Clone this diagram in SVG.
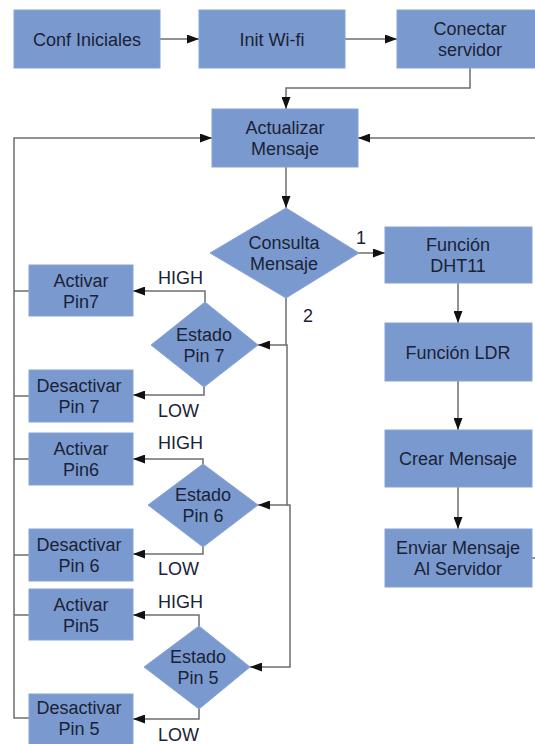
<svg xmlns="http://www.w3.org/2000/svg" width="535" height="744" viewBox="0 0 535 744">
<style>
.box{fill:#7a9acf;stroke:#86a3d6;stroke-width:1}
.t{font-family:"Liberation Sans",Arial,sans-serif;font-size:18px;fill:#1b2235;text-anchor:middle}
.lbl{font-family:"Liberation Sans",Arial,sans-serif;font-size:18px;fill:#1b2235}
.c{fill:none;stroke:#6e6e6e;stroke-width:1.5}
.ca{fill:none;stroke:#6e6e6e;stroke-width:1.5;marker-end:url(#ah)}
</style>
<defs>
<marker id="ah" markerUnits="userSpaceOnUse" markerWidth="13" markerHeight="9" refX="12" refY="4.5" orient="auto">
<path d="M0,0 L12,4.5 L0,9 z" fill="#111"/>
</marker>
</defs>
<rect width="535" height="744" fill="#fff"/>
<g id="connectors">
<path class="ca" d="M160,39 H199"/>
<path class="ca" d="M345,39 H397"/>
<path class="ca" d="M470,68 V88 H286 V109"/>
<path class="ca" d="M286,167 V208"/>
<path class="ca" d="M358,253 H385"/>
<path class="ca" d="M458,283 V323"/>
<path class="ca" d="M458,381 V430"/>
<path class="ca" d="M458,487 V529"/>
<path class="ca" d="M532,558 H548 V138 H358"/>
<path class="ca" d="M286,297 V345 H258"/>
<path class="ca" d="M286,345 H287 V505 H258"/>
<path class="ca" d="M287,505 H290 V667 H250"/>
<path class="ca" d="M205,302 V291 H133"/>
<path class="ca" d="M204,387 V395 H133"/>
<path class="ca" d="M203,464 V459 H133"/>
<path class="ca" d="M203,547 V554 H133"/>
<path class="ca" d="M199,626 V615 H133"/>
<path class="ca" d="M199,709 V719 H133"/>
<path class="ca" d="M29,718 H14 V138 H212"/>
<path class="c" d="M14,291 H29 M14,396 H29 M14,459 H29 M14,555 H29 M14,615 H29"/>
<text class="lbl" x="356" y="244" font-size="16">1</text>
<text class="lbl" x="303" y="322" font-size="16">2</text>
<text class="lbl" x="158" y="284">HIGH</text>
<text class="lbl" x="158" y="417">LOW</text>
<text class="lbl" x="158" y="449">HIGH</text>
<text class="lbl" x="158" y="575">LOW</text>
<text class="lbl" x="158" y="608">HIGH</text>
<text class="lbl" x="158" y="741">LOW</text>
</g>
<g id="conf"><rect class="box" x="14" y="10" width="146" height="58"/><text class="t" x="87" y="45.5">Conf Iniciales</text></g>
<g id="wifi"><rect class="box" x="199" y="10" width="146" height="58"/><text class="t" x="272" y="45.5">Init Wi-fi</text></g>
<g id="conectar"><rect class="box" x="397" y="10" width="146" height="58"/><text class="t" x="470" y="35">Conectar</text><text class="t" x="470" y="56">servidor</text></g>
<g id="actualizar"><rect class="box" x="212" y="109" width="146" height="58"/><text class="t" x="285" y="134">Actualizar</text><text class="t" x="285" y="155">Mensaje</text></g>
<g id="consulta"><polygon class="box" points="286,208 359,253 286,298 210,253"/><text class="t" x="284" y="249">Consulta</text><text class="t" x="284" y="270">Mensaje</text></g>
<g id="dht11"><rect class="box" x="385" y="227" width="147" height="56"/><text class="t" x="458" y="251">Función</text><text class="t" x="458" y="272">DHT11</text></g>
<g id="ldr"><rect class="box" x="385" y="323" width="147" height="58"/><text class="t" x="458" y="359">Función LDR</text></g>
<g id="crear"><rect class="box" x="385" y="430" width="147" height="57"/><text class="t" x="458" y="465">Crear Mensaje</text></g>
<g id="enviar"><rect class="box" x="385" y="529" width="147" height="58"/><text class="t" x="458" y="554">Enviar Mensaje</text><text class="t" x="458" y="575">Al Servidor</text></g>
<g id="estado7"><polygon class="box" points="205,302 258,345 204,387 151,345"/><text class="t" x="204" y="341">Estado</text><text class="t" x="204" y="362">Pin 7</text></g>
<g id="estado6"><polygon class="box" points="203,464 258,505 203,547 148,505"/><text class="t" x="203" y="501">Estado</text><text class="t" x="203" y="522">Pin 6</text></g>
<g id="estado5"><polygon class="box" points="199,626 250,667 199,709 144,667"/><text class="t" x="198" y="663">Estado</text><text class="t" x="198" y="684">Pin 5</text></g>
<g id="activar7"><rect class="box" x="29" y="265" width="104" height="51"/><text class="t" x="81" y="287">Activar</text><text class="t" x="81" y="308">Pin7</text></g>
<g id="desactivar7"><rect class="box" x="29" y="370" width="104" height="52"/><text class="t" x="79" y="392">Desactivar</text><text class="t" x="79" y="413">Pin 7</text></g>
<g id="activar6"><rect class="box" x="29" y="433" width="104" height="52"/><text class="t" x="81" y="455">Activar</text><text class="t" x="81" y="476">Pin6</text></g>
<g id="desactivar6"><rect class="box" x="29" y="529" width="104" height="52"/><text class="t" x="79" y="551">Desactivar</text><text class="t" x="79" y="572">Pin 6</text></g>
<g id="activar5"><rect class="box" x="29" y="589" width="104" height="51"/><text class="t" x="81" y="611">Activar</text><text class="t" x="81" y="632">Pin5</text></g>
<g id="desactivar5"><rect class="box" x="29" y="694" width="104" height="52"/><text class="t" x="79" y="714">Desactivar</text><text class="t" x="79" y="735">Pin 5</text></g>
</svg>
